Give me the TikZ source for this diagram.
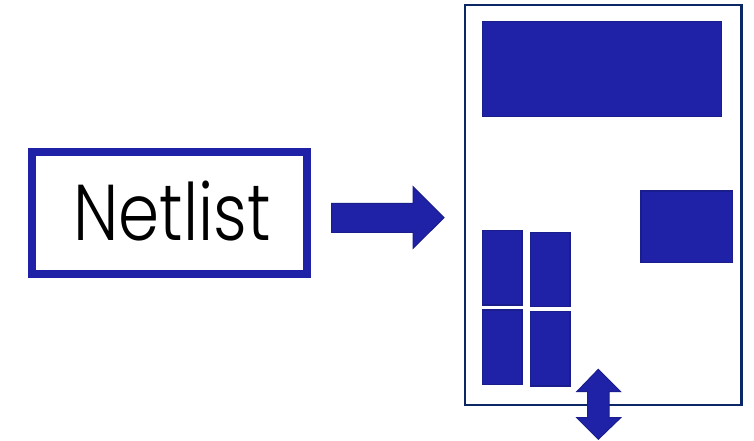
\documentclass[tikz,border=0pt]{standalone}
\usepackage{fontspec}
\setmainfont{Poppins}[UprightFont={* Light}]
\definecolor{blk}{HTML}{1F22A6}
\definecolor{blkedge}{HTML}{1A1D8C}
\definecolor{navy}{HTML}{0B2766}
\tikzset{
  block/.style={fill=blk, draw=blkedge, line width=1.2pt},
  fatarrow/.style={fill=blk, draw=blkedge, line width=1pt, line join=miter},
}
\begin{document}
\begin{tikzpicture}[x=1pt,y=-1pt]
\useasboundingbox (0,0) rectangle (754,441);
% Netlist box
\draw[draw=blk, line width=7.7pt] (32,152) rectangle (307,274);
\node[inner sep=0pt, anchor=base, yscale=1.2, transform shape, font=\fontsize{66}{76}\selectfont] (net) at (172,240) {Netlist};
% right arrow
\draw[fatarrow] (331.7,203.3) -- (413,203.3) -- (413,186.7) -- (444,217.7) -- (413,248.3) -- (413,232.3) -- (331.7,232.3) -- cycle;
% layout frame
\draw[navy, line width=2.5pt] (465,5) rectangle (741.7,405);
% blocks
\draw[block] (482.7,21.7) rectangle (721.7,116.7);
\draw[block] (641,191) rectangle (732.7,262.3);
\draw[block] (482.7,230.7) rectangle (522,305);
\draw[block] (482.7,310) rectangle (522,384.3);
\draw[block] (530.7,232.3) rectangle (570,306.7);
\draw[block] (530.7,311.7) rectangle (570,386);
% double arrow
\draw[fatarrow] (598.3,369.3) -- (620.7,391.7) -- (609,391.7) -- (609,417.7) -- (620.7,417.7) -- (598.3,439.3) -- (576.7,417.7) -- (587.7,417.7) -- (587.7,391.7) -- (576.7,391.7) -- cycle;
\end{tikzpicture}
\end{document}
